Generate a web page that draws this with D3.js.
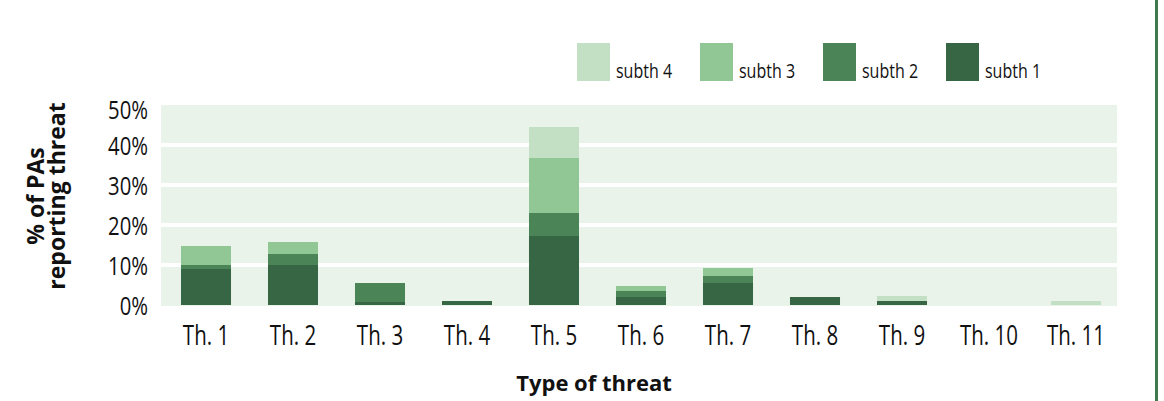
<!DOCTYPE html>
<html>
<head>
<meta charset="utf-8">
<script src="https://cdn.jsdelivr.net/npm/d3@7"></script>
<style>
  body { margin: 0; background: #fff; }
  .tick text { font-family: "Open Sans", sans-serif; fill: #111; }
  .legend text { font-family: "Open Sans", sans-serif; fill: #111; }
  .title { font-family: "Open Sans", sans-serif; font-weight: bold; fill: #111; }
</style>
</head>
<body>
<svg id="chart"></svg>
<script>
/* data, % of PAs */
var categories = ["Th. 1", "Th. 2", "Th. 3", "Th. 4", "Th. 5", "Th. 6", "Th. 7", "Th. 8", "Th. 9", "Th. 10", "Th. 11"];
var subth1 = [9, 10, 0.75, 1, 17.25, 2, 5.5, 2, 1, 0, 0];
var subth2 = [1, 2.75, 4.75, 0, 5.75, 1.5, 1.75, 0, 0, 0, 0];
var subth3 = [4.75, 3, 0, 0, 13.75, 1.25, 2, 0, 0, 0, 0];
var subth4 = [0, 0, 0, 0, 7.75, 0, 0, 0, 1.25, 0, 1];
var seriesNames = ["subth 1", "subth 2", "subth 3", "subth 4"];
var yTicks = [0, 10, 20, 30, 40, 50];

/* settings */
var width = 1164,
    height = 401,
    panel = { left: 161, right: 1117, top: 105, bottom: 305 },
    narrow = "scale(0.78,1)", // the original font is a condensed one
    colors = { "subth 1": "#366644", "subth 2": "#4a8457", "subth 3": "#90c795", "subth 4": "#c3dfc4" };

var rows = categories.map(function (c, i) {
    return { name: c, "subth 1": subth1[i], "subth 2": subth2[i], "subth 3": subth3[i], "subth 4": subth4[i] };
});

var svg = d3.select("#chart")
    .attr("width", width)
    .attr("height", height);

/* scales */
var xScale = d3.scaleBand()
    .domain(categories)
    .range([panel.left + 1.5, panel.right + 2.5])
    .paddingInner(0.425)
    .paddingOuter(0.2125);

var yScale = d3.scaleLinear()
    .domain([0, 50])
    .range([panel.bottom, panel.top]);

/* background panel + white gridlines */
svg.append("rect")
    .attr("x", panel.left)
    .attr("y", panel.top)
    .attr("width", panel.right - panel.left)
    .attr("height", panel.bottom - panel.top + 1)
    .attr("fill", "#e9f3ea");

svg.append("g").attr("class", "grid")
  .selectAll("line")
  .data(yTicks.filter(function (d) { return d > 0 && d < 50; }))
  .enter().append("line")
    .attr("x1", panel.left)
    .attr("x2", panel.right)
    .attr("y1", function (d) { return yScale(d); })
    .attr("y2", function (d) { return yScale(d); })
    .attr("stroke", "#fff")
    .attr("stroke-width", 4);

/* stacked bars */
var stacked = d3.stack().keys(seriesNames)(rows);

svg.append("g").attr("id", "bars")
  .selectAll("g")
  .data(stacked)
  .enter().append("g")
    .attr("fill", function (s) { return colors[s.key]; })
  .selectAll("rect")
  .data(function (s) { return s; })
  .enter().append("rect")
    .attr("x", function (d) { return xScale(d.data.name); })
    .attr("y", function (d) { return yScale(d[1]); })
    .attr("width", xScale.bandwidth())
    .attr("height", function (d) { return yScale(d[0]) - yScale(d[1]); });

/* y-axis */
var yAxisG = svg.append("g")
    .attr("class", "y-axis")
    .attr("transform", "translate(148,0)")
    .call(d3.axisLeft(yScale).tickValues(yTicks).tickSize(0).tickPadding(0)
        .tickFormat(function (d) { return d + "%"; }));
yAxisG.select(".domain").remove();
yAxisG.selectAll("text")
    .attr("x", 0)
    .attr("font-size", 26)
    .attr("dy", function (d) { return d === 50 ? "0.52em" : "0.38em"; })
    .attr("transform", narrow);

/* x-axis */
var xAxisG = svg.append("g")
    .attr("class", "x-axis")
    .attr("transform", "translate(0," + panel.bottom + ")")
    .call(d3.axisBottom(xScale).tickSize(0).tickPadding(0));
xAxisG.select(".domain").remove();
xAxisG.selectAll("text")
    .attr("font-size", 27)
    .attr("y", 40)
    .attr("dy", 0)
    .attr("transform", "scale(0.76,1)");

/* axis legends */
svg.append("text")
    .attr("class", "title")
    .attr("x", 594)
    .attr("y", 391)
    .attr("text-anchor", "middle")
    .attr("font-size", 22)
    .text("Type of threat");

var yTitle = svg.append("text")
    .attr("class", "title")
    .attr("transform", "translate(44,196) rotate(-90)")
    .attr("text-anchor", "middle")
    .attr("font-size", 23);
yTitle.append("tspan").attr("x", 0).attr("y", 0).text("% of PAs");
yTitle.append("tspan").attr("x", 0).attr("y", 21).text("reporting threat");

/* legend */
var legend = svg.append("g").attr("class", "legend")
  .selectAll("g")
  .data(seriesNames.slice().reverse())
  .enter().append("g")
    .attr("transform", function (d, i) { return "translate(" + (577 + i * 123) + ",43)"; });

legend.append("rect")
    .attr("width", 33)
    .attr("height", 38)
    .attr("fill", function (d) { return colors[d]; });

legend.append("text")
    .attr("transform", "translate(39,35) scale(0.8,1)")
    .attr("font-size", 20)
    .text(function (d) { return d; });

/* right frame line */
svg.append("rect")
    .attr("x", 1155)
    .attr("y", 0)
    .attr("width", 3)
    .attr("height", height)
    .attr("fill", "#3f7a4e");
</script>
</body>
</html>
